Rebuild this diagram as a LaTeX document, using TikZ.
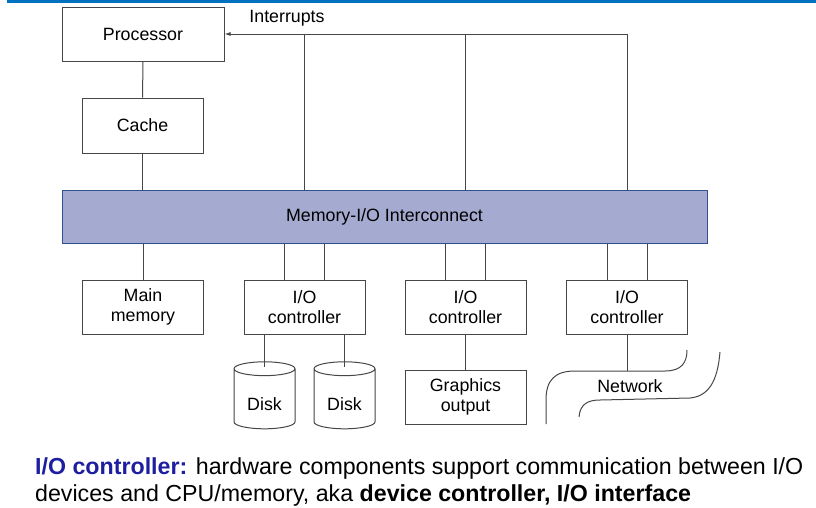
\documentclass[tikz,border=0pt]{standalone}
\usepackage{fontspec}
\setmainfont{Liberation Sans}
\usetikzlibrary{shapes.geometric, arrows.meta, positioning, calc}

\definecolor{busfill}{RGB}{165,171,208}
\definecolor{busline}{RGB}{50,80,145}
\definecolor{barblue}{RGB}{0,112,192}
\definecolor{termblue}{RGB}{30,30,160}
\definecolor{boxline}{RGB}{70,70,70}

\tikzset{
  unit/.style={draw=boxline, line width=1pt, fill=white, align=center, inner sep=0pt,
    font=\fontsize{17.8}{20}\selectfont},
  wire/.style={draw=boxline, line width=1pt},
  disk/.style={cylinder, shape border rotate=90, aspect=0.4, draw=boxline, line width=1pt,
    fill=white, inner sep=0pt, minimum width=61, minimum height=67,
    text height=23pt, text depth=0pt, font=\fontsize{17.8}{20}\selectfont}
}

\begin{document}
\begin{tikzpicture}[x=1pt,y=-1pt]

\useasboundingbox (0,0) rectangle (816,507);
\fill[barblue] (7,0) rectangle (816,3);

\def\boxw{121}
\def\boxh{54}

\node[unit, minimum width=162, minimum height=\boxh] (proc) at (143,34.5) {Processor};
\node[unit, minimum width=\boxw, minimum height=55] (cache) at (142.5,125.5) {Cache};
\node[unit, draw=busline, fill=busfill, minimum width=645, minimum height=53] (bus) at (384.5,216.5) {Memory-I/O Interconnect};

\node[unit, minimum width=\boxw, minimum height=\boxh] (mem) at (143,307) {Main\\memory};
\node[unit, minimum width=\boxw, minimum height=\boxh] (ioa) at (304.5,307) {I/O\\controller};
\node[unit, minimum width=\boxw, minimum height=\boxh] (iob) at (465.5,307) {I/O\\controller};
\node[unit, minimum width=\boxw, minimum height=\boxh] (ioc) at (627,307) {I/O\\controller};

\node[disk] (diska) at (264.5,399) {Disk};
\node[disk] (diskb) at (344.5,399) {Disk};
\node[unit, minimum width=\boxw, minimum height=\boxh] (gfx) at (465.5,397) {Graphics\\output};

\coordinate (irq) at (627,34);
\coordinate (nettap) at (627,371);
\node[font=\fontsize{17.8}{20}\selectfont] (irqlabel) at (287,18) {Interrupts};
\node[font=\fontsize{17.8}{20}\selectfont] (netlabel) at (630,386) {Network};

\draw[wire,-{Latex[length=6pt,width=4pt]}] (irq) -- (irq -| proc.east);
\draw[wire] (irq) -- (bus.north -| irq);
\draw[wire] (irq -| ioa) -- (bus.north -| ioa);
\draw[wire] (irq -| iob) -- (bus.north -| iob);

\draw[wire] (proc.south) -- (cache.north);
\draw[wire] (cache.south) -- (bus.north -| cache);
\draw[wire] (bus.south -| mem) -- (mem.north);
\foreach \io in {ioa,iob,ioc}{
  \draw[wire] ([xshift=-20pt]\io.north) -- ([xshift=-20pt]\io.north |- bus.south);
  \draw[wire] ([xshift=20pt]\io.north) -- ([xshift=20pt]\io.north |- bus.south);
}
\draw[wire] (ioa.south -| diska) -- ([yshift=-6pt]diska.top);
\draw[wire] (ioa.south -| diskb) -- ([yshift=-6pt]diskb.top);
\draw[wire] (iob.south) -- (gfx.north);
\draw[wire] (ioc.south) -- (nettap);

\draw[wire] (546,424) -- (546,400) .. controls (546,380) and (555,371) .. (575,371)
  -- (665,371) .. controls (682,371) and (687,362) .. (687,350);
\draw[wire] (579,417) .. controls (580,404) and (588,400) .. (600,400)
  -- (690,398) .. controls (712,396) and (718,375) .. (720,352);

\node[anchor=north west, align=left, inner sep=0pt, font=\fontsize{23.2}{27}\selectfont] (note) at (35,457)
  {\textbf{\color{termblue}I/O controller:} hardware components support communication between I/O\\
   devices and CPU/memory, aka \textbf{device controller, I/O interface}};

\end{tikzpicture}
\end{document}
